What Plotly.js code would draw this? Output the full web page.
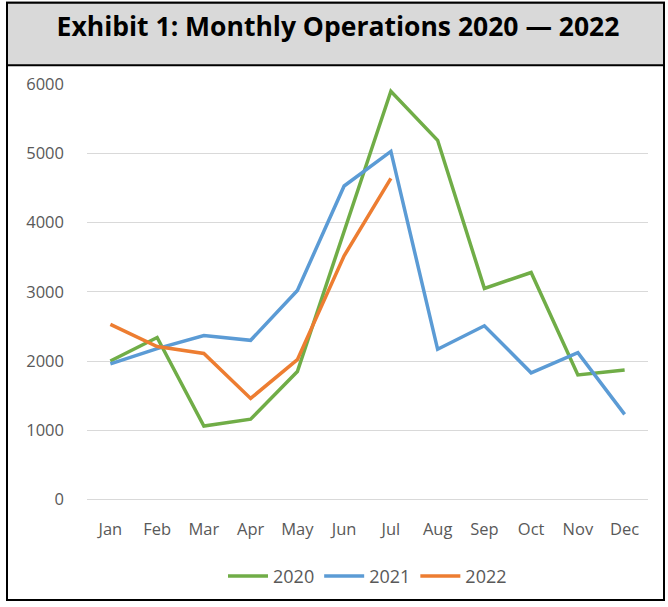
<!DOCTYPE html>
<html>
<head>
<meta charset="utf-8">
<script src="https://cdn.plot.ly/plotly-3.0.1.min.js"></script>
<style>html,body{margin:0;padding:0;background:#fff;}#chart{width:668px;height:607px;}</style>
</head>
<body>
<div id="chart"></div>
<script>
const months = ["Jan","Feb","Mar","Apr","May","Jun","Jul","Aug","Sep","Oct","Nov","Dec"];
const values2020 = [2000, 2340, 1060, 1160, 1850, 3880, 5900, 5190, 3050, 3280, 1800, 1870];
const values2021 = [1960, 2180, 2370, 2300, 3020, 4530, 5030, 2170, 2510, 1830, 2120, 1230];
const values2022 = [2530, 2210, 2110, 1460, 2020, 3520, 4640];
const months2022 = months.slice(0, 7);
const yTicks = [0, 1000, 2000, 3000, 4000, 5000, 6000];

const W = 668, H = 607;
const m = {l: 87, r: 20, t: 84, b: 103};
const pw = W - m.l - m.r, ph = H - m.t - m.b;
const px = v => (v - m.l) / pw;
const py = v => (H - m.b - v) / ph;

const traces = [
  {x: months, y: values2020, name: "2020", type: "scatter", mode: "lines",
   line: {color: "#70ad47", width: 3.5}},
  {x: months, y: values2021, name: "2021", type: "scatter", mode: "lines",
   line: {color: "#5b9bd5", width: 3.5}},
  {x: months2022, y: values2022, name: "2022", type: "scatter", mode: "lines",
   line: {color: "#ed7d31", width: 3.5}}
];

const layout = {
  width: W, height: H,
  margin: m,
  paper_bgcolor: "#ffffff",
  plot_bgcolor: "rgba(0,0,0,0)",
  font: {family: "Open Sans, sans-serif", color: "#595959", size: 16},
  title: {text: "<b>Exhibit 1: Monthly Operations 2020 — 2022</b>",
    font: {family: "Open Sans, sans-serif", size: 26.5, color: "#000000"},
    x: 338 / W, xref: "container", xanchor: "center",
    y: 1 - 27 / H, yref: "container", yanchor: "middle"},
  xaxis: {type: "category", categoryorder: "array", categoryarray: months,
    range: [-0.5, 11.5], showgrid: false, zeroline: false, showline: false,
    ticks: "", ticklabelstandoff: 17, tickfont: {size: 16.5, color: "#595959"}},
  yaxis: {range: [-8, 6004], tickvals: yTicks, ticktext: yTicks.map(String),
    showgrid: true, gridcolor: "#d9d9d9", gridwidth: 1,
    zeroline: true, zerolinecolor: "#d9d9d9", zerolinewidth: 1.2, showline: false,
    ticks: "", ticklabelstandoff: 22, tickfont: {size: 16.5, color: "#595959"}},
  showlegend: true,
  legend: {orientation: "h", x: 0.5, xanchor: "center", y: py(581), yanchor: "middle",
    font: {size: 18, color: "#595959"}, itemwidth: 40, tracegroupgap: 0, bgcolor: "rgba(0,0,0,0)"},
  shapes: [
    {type: "rect", xref: "paper", yref: "paper", layer: "below",
     x0: px(7), x1: px(664), y0: py(605), y1: py(2),
     line: {color: "#000000", width: 2}, fillcolor: "rgba(0,0,0,0)"},
    {type: "rect", xref: "paper", yref: "paper", layer: "below",
     x0: px(7), x1: px(664), y0: py(65), y1: py(2),
     line: {color: "#000000", width: 2}, fillcolor: "#d9d9d9"}
  ]
};

Plotly.newPlot("chart", traces, layout, {displayModeBar: false, staticPlot: true});
</script>
</body>
</html>
